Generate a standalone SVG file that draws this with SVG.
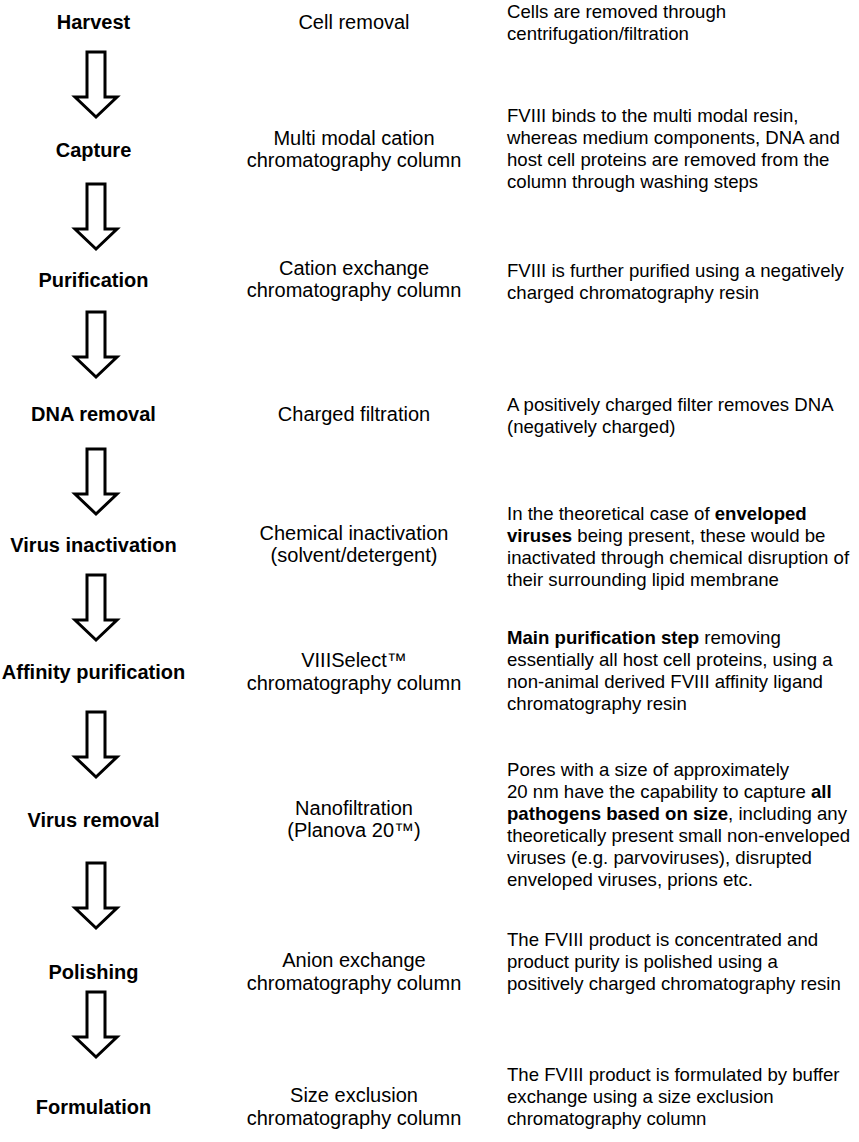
<svg xmlns="http://www.w3.org/2000/svg" width="859" height="1142" viewBox="0 0 859 1142">
<defs>
<style>
text{font-family:"Liberation Sans",Arial,sans-serif;font-size:18.6px;fill:#000}
.step{font-weight:bold;text-anchor:middle;font-size:20px}
.mid{text-anchor:middle;font-size:20px}
.b{font-weight:bold}
.arrow{fill:#fff;stroke:#000;stroke-width:3;stroke-linejoin:miter}
</style>
<path id="arr" d="M87,0 V45 H75 L96,65 L117,45 H105 V0 Z"/>
</defs>
<rect width="859" height="1142" fill="#fff"/>
<g id="connectors">
<use href="#arr" class="arrow" transform="translate(0,52)"/>
<use href="#arr" class="arrow" transform="translate(0,184)"/>
<use href="#arr" class="arrow" transform="translate(0,312)"/>
<use href="#arr" class="arrow" transform="translate(0,449)"/>
<use href="#arr" class="arrow" transform="translate(0,575)"/>
<use href="#arr" class="arrow" transform="translate(0,712)"/>
<use href="#arr" class="arrow" transform="translate(0,863)"/>
<use href="#arr" class="arrow" transform="translate(0,992)"/>
</g>
<g id="harvest">
<text class="step" x="93.5" y="29">Harvest</text>
<text class="mid" x="354" y="29">Cell removal</text>
<text x="507" y="18">Cells are removed through</text>
<text x="507" y="40">centrifugation/filtration</text>
</g>
<g id="capture">
<text class="step" x="93.5" y="157">Capture</text>
<text class="mid" x="354" y="145">Multi modal cation</text>
<text class="mid" x="354" y="167">chromatography column</text>
<text x="507" y="122">FVIII binds to the multi modal resin,</text>
<text x="507" y="144">whereas medium components, DNA and</text>
<text x="507" y="166">host cell proteins are removed from the</text>
<text x="507" y="188">column through washing steps</text>
</g>
<g id="purification">
<text class="step" x="93.5" y="287">Purification</text>
<text class="mid" x="354" y="275">Cation exchange</text>
<text class="mid" x="354" y="297">chromatography column</text>
<text x="507" y="277">FVIII is further purified using a negatively</text>
<text x="507" y="299">charged chromatography resin</text>
</g>
<g id="dna-removal">
<text class="step" x="93.5" y="421">DNA removal</text>
<text class="mid" x="354" y="421">Charged filtration</text>
<text x="507" y="411">A positively charged filter removes DNA</text>
<text x="507" y="433">(negatively charged)</text>
</g>
<g id="virus-inactivation">
<text class="step" x="93.5" y="552">Virus inactivation</text>
<text class="mid" x="354" y="540">Chemical inactivation</text>
<text class="mid" x="354" y="562">(solvent/detergent)</text>
<text x="507" y="520">In the theoretical case of <tspan class="b">enveloped</tspan></text>
<text x="507" y="542"><tspan class="b">viruses</tspan> being present, these would be</text>
<text x="507" y="564">inactivated through chemical disruption of</text>
<text x="507" y="586">their surrounding lipid membrane</text>
</g>
<g id="affinity-purification">
<text class="step" x="93.5" y="679">Affinity purification</text>
<text class="mid" x="354" y="667">VIIISelect™</text>
<text class="mid" x="354" y="690">chromatography column</text>
<text x="507" y="644"><tspan class="b">Main purification step</tspan> removing</text>
<text x="507" y="666">essentially all host cell proteins, using a</text>
<text x="507" y="688">non-animal derived FVIII affinity ligand</text>
<text x="507" y="710">chromatography resin</text>
</g>
<g id="virus-removal">
<text class="step" x="93.5" y="827">Virus removal</text>
<text class="mid" x="354" y="815">Nanofiltration</text>
<text class="mid" x="354" y="837">(Planova 20™)</text>
<text x="507" y="776">Pores with a size of approximately</text>
<text x="507" y="798">20 nm have the capability to capture <tspan class="b">all</tspan></text>
<text x="507" y="820"><tspan class="b">pathogens based on size</tspan>, including any</text>
<text x="507" y="842">theoretically present small non-enveloped</text>
<text x="507" y="864">viruses (e.g. parvoviruses), disrupted</text>
<text x="507" y="886">enveloped viruses, prions etc.</text>
</g>
<g id="polishing">
<text class="step" x="93.5" y="979">Polishing</text>
<text class="mid" x="354" y="967">Anion exchange</text>
<text class="mid" x="354" y="990">chromatography column</text>
<text x="507" y="946">The FVIII product is concentrated and</text>
<text x="507" y="968">product purity is polished using a</text>
<text x="507" y="990">positively charged chromatography resin</text>
</g>
<g id="formulation">
<text class="step" x="93.5" y="1114">Formulation</text>
<text class="mid" x="354" y="1102">Size exclusion</text>
<text class="mid" x="354" y="1125">chromatography column</text>
<text x="507" y="1081">The FVIII product is formulated by buffer</text>
<text x="507" y="1103">exchange using a size exclusion</text>
<text x="507" y="1125">chromatography column</text>
</g>
</svg>
